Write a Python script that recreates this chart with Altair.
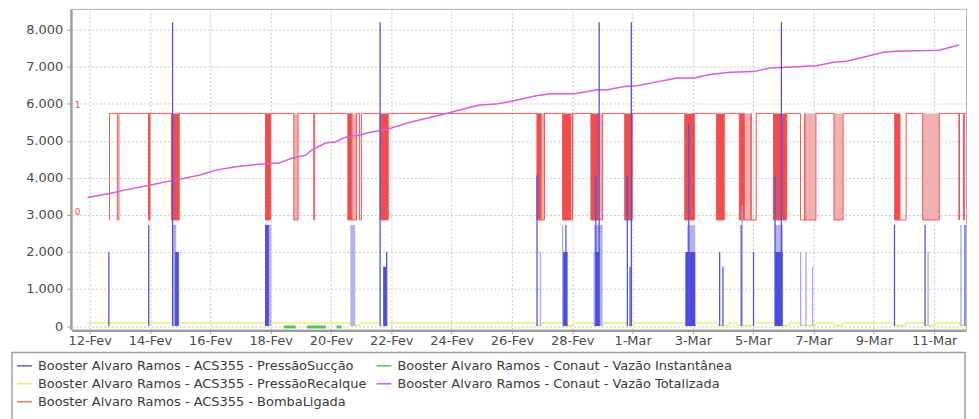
import altair as alt
import pandas as pd

# ---------------- series names and colours ----------------
S_SUC = "Booster Alvaro Ramos - ACS355 - PressãoSucção"
S_INST = "Booster Alvaro Ramos - Conaut - Vazão Instantânea"
S_REC = "Booster Alvaro Ramos - ACS355 - PressãoRecalque"
S_TOT = "Booster Alvaro Ramos - Conaut - Vazão Totalizada"
S_BOM = "Booster Alvaro Ramos - ACS355 - BombaLigada"
series_names = [S_SUC, S_INST, S_REC, S_TOT, S_BOM]
series_colors = ["#5a5ae0", "#55c455", "#ecec5a", "#dc5adc", "#f07474"]

# time axis: days since 12-Fev-2012 00:00
X_MIN, X_MAX = -0.594, 29.056
Y_MIN, Y_MAX = -94, 8565
x_ticks = [0, 2, 4, 6, 8, 10, 12, 14, 16, 18, 20, 22, 24, 26, 28]
y_ticks = [0, 1000, 2000, 3000, 4000, 5000, 6000, 7000, 8000]

# ---------------- Vazão Totalizada ----------------
tot_day = [-0.07, 0.66, 1.16, 1.98, 2.81, 3.63, 4.19, 4.85, 5.61, 6.27, 6.70, 7.16,
           7.36, 7.82, 8.15, 8.48, 8.91, 9.34, 9.81, 10.66, 11.79, 12.88, 13.54,
           14.10, 14.76, 15.29, 16.08, 16.84, 17.17, 17.73, 18.16, 18.72, 19.48,
           20.04, 20.57, 21.23, 22.02, 22.55, 23.11, 24.10, 24.66, 25.09, 25.65,
           26.31, 26.74, 28.16, 28.82]
tot_val = [3470, 3580, 3670, 3800, 3940, 4070, 4210, 4300, 4370, 4400, 4530, 4610,
           4750, 4940, 4970, 5100, 5150, 5240, 5300, 5510, 5730, 5960, 6000,
           6090, 6210, 6270, 6270, 6380, 6380, 6470, 6490, 6580, 6700,
           6700, 6790, 6850, 6870, 6970, 6990, 7030, 7120, 7150, 7260,
           7390, 7420, 7450, 7590]

# ---------------- PressãoRecalque (baseline with dips) ----------------
rec_start, rec_end = -0.07, 29.05
rec_base, rec_low = 85, 15
rec_dip_start = [5.81, 8.65, 9.61, 14.79, 15.68, 16.74, 17.76, 19.71, 20.80, 21.46,
                 22.68, 23.54, 24.66, 26.64, 27.63, 28.82]
rec_dip_end = [6.01, 8.98, 9.90, 15.02, 16.08, 16.97, 18.06, 20.14, 21.23, 22.05,
               23.21, 24.10, 24.99, 27.07, 28.06, 29.05]

# ---------------- Vazão Instantânea (visible bumps) ----------------
inst_start = [6.44, 7.20, 8.19]
inst_end = [6.83, 7.83, 8.35]
inst_val = [-25, -25, -25]

# ---------------- PressãoSucção ----------------
suc_day = [0.637, 1.958, 2.750, 2.806, 2.856, 2.922, 5.834, 5.893, 9.630, 9.757,
           9.848, 14.833, 14.946, 15.682, 15.791, 16.728, 16.781, 16.893, 16.970,
           17.828, 17.917, 17.960, 19.865, 20.888, 20.997, 21.601, 21.634, 22.011,
           22.724, 22.935, 23.572, 23.747, 23.968, 26.685, 27.699, 27.798, 28.888,
           29.020]
suc_val = [2000, 2730, 8200, 2730, 2000, 2000, 2730, 2730, 8200, 1600,
           2000, 4070, 2000, 2730, 2730, 2000, 4070, 8200, 2730,
           4070, 1600, 8200, 5450, 2000, 1600, 2730, 3270, 2000,
           4070, 8200, 2000, 2000, 1600, 2730, 2730, 2000, 2730,
           2730]
suc_shade = ["d", "d", "d", "l", "d", "d", "d", "d", "d", "d",
             "d", "d", "l", "l", "d", "l", "d", "d", "l",
             "d", "d", "d", "d", "d", "d", "d", "l", "d",
             "d", "d", "l", "l", "l", "d", "d", "l", "l",
             "d"]
suc_blk_start = [2.757, 2.839, 5.834, 5.943, 8.640, 9.74, 15.682, 16.728, 16.77,
                 19.81, 19.75, 22.72, 22.72]
suc_blk_end = [2.872, 2.955, 5.943, 6.019, 8.805, 9.84, 15.847, 17.002, 16.90,
               20.08, 20.08, 22.98, 22.98]
suc_blk_val = [2730, 2000, 2730, 2730, 2730, 1600, 2000, 2730, 2000,
               2730, 2000, 2730, 2000]
suc_blk_shade = ["l", "d", "d", "l", "l", "d", "d", "l", "d",
                 "l", "d", "l", "d"]

# ---------------- BombaLigada (0/1, secondary axis) ----------------
bomba_start, bomba_end = 0.64, 29.05
bomba_dip_start = [0.92, 1.95, 2.71, 5.83, 6.77, 7.43, 8.56, 8.69, 8.95, 9.63,
                   14.83, 14.96, 15.68, 15.94, 16.62, 16.86, 17.74, 19.73, 20.78,
                   21.54, 21.70, 21.93, 22.67, 23.57, 23.71, 24.68, 26.69, 26.86,
                   27.62, 28.82, 28.97]
bomba_dip_end = [0.97, 2.00, 2.97, 6.00, 6.91, 7.46, 8.69, 8.85, 9.01, 9.90,
                 14.96, 15.08, 15.94, 16.01, 16.86, 17.00, 17.99, 20.05, 21.04,
                 21.70, 21.93, 22.10, 23.11, 23.71, 24.08, 24.98, 26.86, 27.07,
                 28.17, 28.84, 29.00]
bomba_dip_fill = ["n", "s", "s", "s", "l", "n", "s", "l", "n", "s",
                  "s", "l", "s", "l", "s", "l", "s", "s", "s",
                  "s", "l", "n", "s", "n", "l", "l", "s", "n",
                  "l", "n", "n"]
bomba_levels = [1, 0]
bomba_labels = ["1", "0"]

# ---------------- tables ----------------
tot_df = pd.DataFrame({"day": tot_day, "v": tot_val, "serie": S_TOT})
tot_df["i"] = range(len(tot_df))

rt, rv = [rec_start], [rec_base]
for a, b in zip(rec_dip_start, rec_dip_end):
    rt += [a, a + 0.06, b - 0.06, b]
    rv += [rec_base, rec_low, rec_low, rec_base]
rt.append(rec_end)
rv.append(rec_base)
rec_df = pd.DataFrame({"day": rt, "v": rv, "serie": S_REC})
rec_df["i"] = range(len(rec_df))

it, iv, iseg = [], [], []
for k, (a, b, v) in enumerate(zip(inst_start, inst_end, inst_val)):
    it += [a, b]
    iv += [v, v]
    iseg += [k, k]
inst_df = pd.DataFrame({"day": it, "v": iv, "seg": iseg, "serie": S_INST})

suc_df = pd.DataFrame({"day": suc_day, "v": suc_val, "shade": suc_shade, "base": 0})
blk_df = pd.DataFrame({"a": suc_blk_start, "b": suc_blk_end, "v": suc_blk_val,
                       "shade": suc_blk_shade, "base": 0})

bt, bv = [bomba_start, bomba_start + 0.02], [0, 1]
for a, b in zip(bomba_dip_start, bomba_dip_end):
    bt += [a, b]
    bv += [0, 1]
bt.append(bomba_end)
bv.append(1)
bomba_df = pd.DataFrame({"day": bt, "v": bv})
bomba_df["i"] = range(len(bomba_df))
bfill_df = pd.DataFrame({"a": bomba_dip_start, "b": bomba_dip_end,
                         "fill": bomba_dip_fill, "lo": 0, "hi": 1})
blab_df = pd.DataFrame({"v": bomba_levels, "t": bomba_labels})

# ---------------- scales / axes ----------------
FONT = "DejaVu Sans"
FS = 13
xscale = alt.Scale(domain=[X_MIN, X_MAX], nice=False, zero=False)
yscale = alt.Scale(domain=[Y_MIN, Y_MAX], nice=False, zero=False)
bscale = alt.Scale(domain=[-1.028, 1.981], nice=False, zero=False)

xdate = "datetime(2012, 1, 12 + datum.value)"
xaxis = alt.Axis(values=x_ticks, title=None, grid=True, gridDash=[2, 2],
                 gridColor="#c8c8c8", tickSize=3, tickColor="#999",
                 labelPadding=1, domainColor="#9a9a9a", domainWidth=2, offset=1,
                 labelFont=FONT, labelFontSize=FS, labelColor="#4a4a4a",
                 labelExpr=f"date({xdate}) + '-' + (month({xdate}) == 1 ? 'Fev' : 'Mar')")
yaxis = alt.Axis(values=y_ticks, title=None, grid=True, gridDash=[2, 2],
                 gridColor="#c8c8c8", tickSize=4, tickColor="#999",
                 labelPadding=4, domainColor="#9a9a9a", domainWidth=2, offset=1,
                 labelFont=FONT, labelFontSize=FS, labelColor="#4a4a4a",
                 labelExpr="replace(format(datum.value, ',d'), ',', '.')")

color = alt.Color("serie:N",
                  scale=alt.Scale(domain=series_names, range=series_colors),
                  legend=alt.Legend(orient="none", legendX=-56, legendY=350,
                                    direction="horizontal",
                                    columns=2, gridAlign="none", title=None,
                                    symbolType="stroke", symbolSize=220,
                                    symbolStrokeWidth=1.5, labelFont=FONT,
                                    labelFontSize=FS, labelColor="#3a3a3a",
                                    labelLimit=600, rowPadding=2,
                                    columnPadding=6, labelOffset=5, padding=0))


def X(f="day"):
    return alt.X(f"{f}:Q", scale=xscale, axis=xaxis)


def Y(f="v"):
    return alt.Y(f"{f}:Q", scale=yscale, axis=yaxis)


# ---------------- bomba (secondary axis) layers ----------------
bomba_solid = alt.Chart(bfill_df).mark_rect(color="#f24c4c").encode(
    x=X("a"), x2="b:Q",
    y=alt.Y("lo:Q", scale=bscale, axis=None), y2="hi:Q"
).transform_filter("datum.fill == 's'")
bomba_light = alt.Chart(bfill_df).mark_rect(color="#f2b0b0").encode(
    x=X("a"), x2="b:Q",
    y=alt.Y("lo:Q", scale=bscale, axis=None), y2="hi:Q"
).transform_filter("datum.fill == 'l'")
bomba_line = alt.Chart(bomba_df).mark_line(
    interpolate="step-after", color="#ee5555", strokeWidth=1).encode(
    x=X(),
    y=alt.Y("v:Q", scale=bscale, axis=None),
    order="i:Q")
bomba_text = alt.Chart(blab_df).mark_text(
    color="#e05050", fontSize=9, font=FONT, dy=-8, align="center").encode(
    x=alt.value(6), y=alt.Y("v:Q", scale=bscale, axis=None), text="t:N")
bomba = alt.layer(bomba_solid, bomba_light, bomba_line, bomba_text)

# ---------------- primary axis layers ----------------
tot = alt.Chart(tot_df).mark_line(strokeWidth=1.5).encode(
    x=X(), y=Y(), color=color, order="i:Q")
rec = alt.Chart(rec_df).mark_line(strokeWidth=1.3).encode(
    x=X(), y=Y(), color=color, order="i:Q")
inst = alt.Chart(inst_df).mark_line(strokeWidth=3).encode(
    x=X(), y=Y(), color=color, detail="seg:N")
blk_l = alt.Chart(blk_df).mark_rect(color="#b4b4ec").encode(
    x=X("a"), x2="b:Q", y=Y("base"), y2="v:Q"
).transform_filter("datum.shade == 'l'")
blk_d = alt.Chart(blk_df).mark_rect(color="#4a4ae0").encode(
    x=X("a"), x2="b:Q", y=Y("base"), y2="v:Q"
).transform_filter("datum.shade == 'd'")
spk_l = alt.Chart(suc_df).mark_rule(color="#a8a8ea", strokeWidth=1.3).encode(
    x=X(), y=Y("base"), y2="v:Q"
).transform_filter("datum.shade == 'l'")
spk_d = alt.Chart(suc_df).mark_rule(color="#5454e0", strokeWidth=1.3).encode(
    x=X(), y=Y("base"), y2="v:Q"
).transform_filter("datum.shade == 'd'")
frame = alt.Chart(pd.DataFrame({"k": [0]})).mark_rect(
    fillOpacity=0, stroke="#a0a0a0", strokeWidth=1.5).encode(
    x=alt.value(-60), x2=alt.value(897), y=alt.value(345), y2=alt.value(440))

main = alt.layer(tot, rec, inst, blk_l, blk_d, spk_l, spk_d, frame)

chart = alt.layer(bomba, main).resolve_scale(y="independent").properties(
    width=898, height=322,
    autosize=alt.AutoSizeParams(type="none"),
    padding={"left": 64, "top": 0, "right": 5, "bottom": 89},
    background="white",
).configure_view(stroke="#b0b0b0", strokeWidth=1)

chart.save("out.html", embed_options={"renderer": "svg", "actions": False})
